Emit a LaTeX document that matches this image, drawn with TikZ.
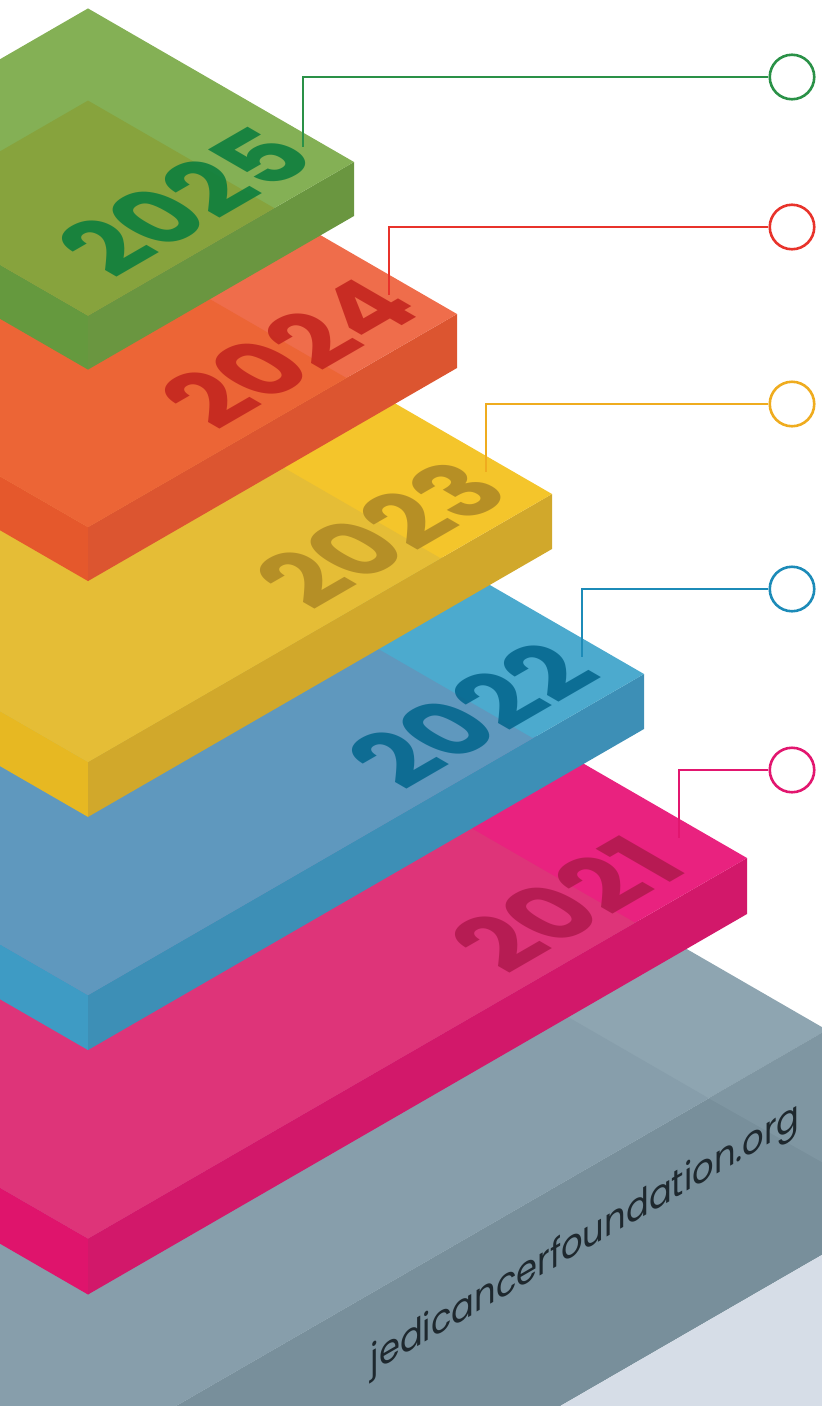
\documentclass[tikz,border=0pt]{standalone}
\usepackage{fontspec}
\newfontfamily\yearfont{Poppins}
\newfontfamily\sitefont{Poppins}
\usetikzlibrary{calc}

\definecolor{grntop}{HTML}{84B055}
\definecolor{grnmain}{HTML}{87A33D}
\definecolor{grnright}{HTML}{6A9640}
\definecolor{grnleft}{HTML}{65993E}
\definecolor{grntext}{HTML}{0E7F3E}
\definecolor{grnline}{HTML}{2A9147}

\definecolor{orgtop}{HTML}{EF6D4B}
\definecolor{orgmain}{HTML}{EC6536}
\definecolor{orgright}{HTML}{DC5530}
\definecolor{orgleft}{HTML}{E5582C}
\definecolor{orgtext}{HTML}{C4261F}
\definecolor{orgline}{HTML}{E8332B}

\definecolor{yeltop}{HTML}{F4C52B}
\definecolor{yelmain}{HTML}{E5BD36}
\definecolor{yelright}{HTML}{D1A82B}
\definecolor{yelleft}{HTML}{E7B822}
\definecolor{yeltext}{HTML}{B08A25}
\definecolor{yelline}{HTML}{EFAC1F}

\definecolor{blutop}{HTML}{4CAACE}
\definecolor{blumain}{HTML}{5F98BE}
\definecolor{bluright}{HTML}{3D8FB6}
\definecolor{bluleft}{HTML}{3E9BC4}
\definecolor{blutext}{HTML}{06688F}
\definecolor{bluline}{HTML}{1C8BB8}

\definecolor{pnktop}{HTML}{E9227F}
\definecolor{pnkmain}{HTML}{DE3479}
\definecolor{pnkright}{HTML}{D2186A}
\definecolor{pnkleft}{HTML}{DF146C}
\definecolor{pnktext}{HTML}{B21A4F}
\definecolor{pnkline}{HTML}{E2166F}

\definecolor{grytop}{HTML}{8EA5B1}
\definecolor{grymain}{HTML}{879EAB}
\definecolor{gryright}{HTML}{788F9B}
\definecolor{gryleft}{HTML}{869DAB}
\definecolor{grylight}{HTML}{7F96A2}
\definecolor{floor}{HTML}{D6DDE7}
\definecolor{sitetext}{HTML}{1E282E}

% one isometric block: name, right corner x and y, thickness, share of the darker square
\newcommand\slab[5]{%
  \coordinate (#1R) at (#2,#3);
  \coordinate (#1F) at (88,{#3+(#2-88)*0.5774});
  \coordinate (#1B) at (88,{#3-(#2-88)*0.5774});
  \coordinate (#1L) at ({176-#2},#3);
  \fill[#1left] (#1L) -- (#1F) -- ++(0,#4) -- ($(#1L)+(0,#4)$) -- cycle;
  \fill[#1right] (#1F) -- (#1R) -- ++(0,#4) -- ($(#1F)+(0,#4)$) -- cycle;
  \fill[#1top] (#1B) -- (#1R) -- (#1F) -- (#1L) -- cycle;
  \fill[#1main] (#1F) -- ($(#1F)!#5!(#1R)$) -- ($(#1F)!#5!(#1B)$) -- ($(#1F)!#5!(#1L)$) -- cycle;
}

\tikzset{
  year/.style={text=#1, text opacity=0.9, inner sep=0pt, anchor=base west,
    cm={0.814,0.47,-0.866,0.5,(0,0)},
    font=\yearfont\bfseries\fontsize{104}{104}\selectfont},
  ring/.style={circle, draw=#1, line width=2.6pt, minimum size=44.5pt, inner sep=0pt, fill=white},
  lead/.style={draw=#1, line width=2.6pt},
}

\begin{document}
\begin{tikzpicture}[x=1pt, y=-1pt]
  \useasboundingbox (0,0) rectangle (822,1406);
  \clip (0,0) rectangle (822,1406);

  \slab{gry}{827}{1030}{222}{0.84}
  \fill[floor] ($(gryR)+(0,222)$) -- ($(gryF)+(0,222)$) -- (88,1800) -- (900,1800) -- (900,1252) -- cycle;
  \fill[grylight] ($(gryF)!0.84!(gryR)$) -- (gryR) -- ++(0,135) -- cycle;
  \node[text=sitetext, inner sep=0pt, anchor=base east, cm={0.866,0.5,0,1,(0,0)},
    font=\sitefont\fontsize{39}{39}\selectfont] (site) at (800,1126) {jedicancerfoundation.org};

  \slab{pnk}{747}{858}{56}{0.83}
  \node[year=pnktext] (y21) at ($(pnkR)+(-240,118)$) {2021};

  \slab{blu}{644}{674}{55}{0.80}
  \node[year=blutext] (y22) at ($(bluR)+(-240,118)$) {2022};

  \slab{yel}{552}{494}{55}{0.76}
  \node[year=yeltext] (y23) at ($(yelR)+(-240,118)$) {2023};

  \slab{org}{457}{314}{54}{0.70}
  \node[year=orgtext] (y24) at ($(orgR)+(-240,118)$) {2024};

  \slab{grn}{354}{162}{54}{0.70}
  \node[year=grntext] (y25) at ($(grnR)+(-240,118)$) {2025};

  \node[ring=grnline] (c25) at (792,77) {};
  \node[ring=orgline] (c24) at (792,227) {};
  \node[ring=yelline] (c23) at (792,404) {};
  \node[ring=bluline] (c22) at (792,589) {};
  \node[ring=pnkline] (c21) at (792,770) {};

  \coordinate (k25) at (303,147);
  \coordinate (k24) at (389,295);
  \coordinate (k23) at (486,472);
  \coordinate (k22) at (582,657);
  \coordinate (k21) at (679,838);

  \draw[lead=grnline] (c25.west) -| (k25);
  \draw[lead=orgline] (c24.west) -| (k24);
  \draw[lead=yelline] (c23.west) -| (k23);
  \draw[lead=bluline] (c22.west) -| (k22);
  \draw[lead=pnkline] (c21.west) -| (k21);
\end{tikzpicture}
\end{document}
